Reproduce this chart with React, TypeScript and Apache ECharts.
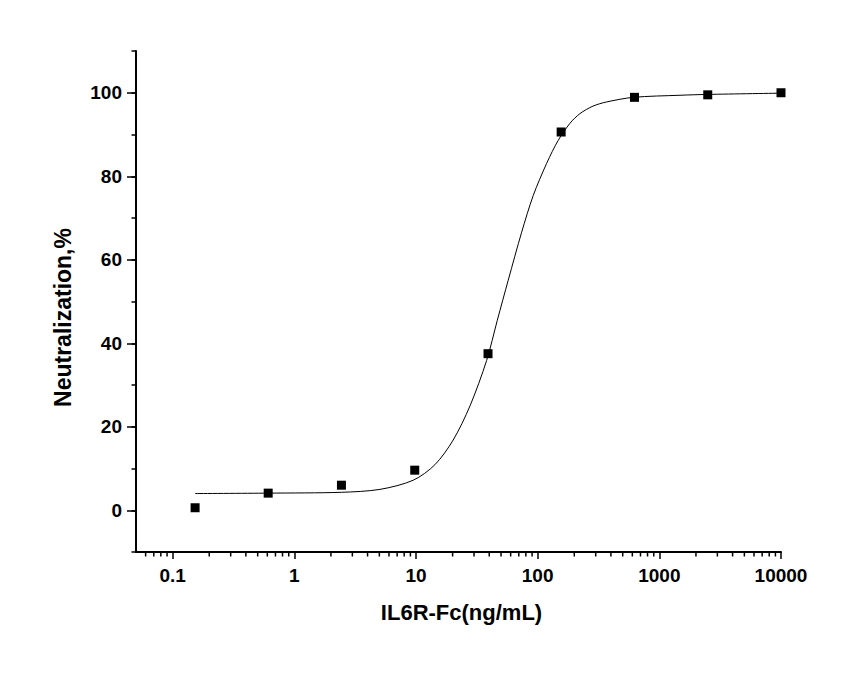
import React, { useEffect, useRef } from 'react';
import * as echarts from 'echarts';

// measured points (4-fold dilutions)
const doseValues = [0.153, 0.61, 2.44, 9.77, 39.1, 156, 625, 2500, 10000];
const neutValues = [0.6, 4.1, 6.0, 9.6, 37.5, 90.6, 98.9, 99.5, 100];

// fitted curve
const curveX = [0.153, 0.61, 2.44, 5.06, 9.5, 14.3, 20.2, 27.8, 38.1, 46.6, 57.3, 73.9, 92.0, 118.6, 147.6, 184.5, 222.6, 285, 369, 611, 1479, 2500, 10000];
const curveY = [4.0, 4.1, 4.3, 5.0, 7.2, 10.9, 16.8, 25.0, 35.9, 45.5, 55.1, 66.6, 75.4, 83.1, 88.6, 92.7, 95.0, 96.8, 97.8, 98.9, 99.4, 99.6, 99.9];

// axis ticks
const yMajorTicks = [0, 20, 40, 60, 80, 100];
const xMinorTicks = [
  0.06, 0.07, 0.08, 0.09,
  0.2, 0.3, 0.4, 0.5, 0.6, 0.7, 0.8, 0.9,
  2, 3, 4, 5, 6, 7, 8, 9,
  20, 30, 40, 50, 60, 70, 80, 90,
  200, 300, 400, 500, 600, 700, 800, 900,
  2000, 3000, 4000, 5000, 6000, 7000, 8000, 9000,
];

const X_MIN = 0.05;
const X_MAX = 10000;
const Y_MIN = -10;
const Y_MAX = 110;

const FONT = 'Arial, "Liberation Sans", sans-serif';

const App: React.FC = () => {
  const chartRef = useRef<HTMLDivElement>(null);

  useEffect(() => {
    if (!chartRef.current) return;
    const chart = echarts.init(chartRef.current, undefined, { renderer: 'svg' });

    const option = {
      animation: false,
      backgroundColor: '#fff',
      grid: { left: 136, right: 76, top: 51, bottom: 129 },
      xAxis: {
        type: 'log',
        logBase: 10,
        min: X_MIN,
        max: X_MAX,
        name: 'IL6R-Fc(ng/mL)',
        nameLocation: 'middle',
        nameGap: 49,
        nameTextStyle: {
          fontFamily: FONT,
          fontSize: 22,
          fontWeight: 'bold',
          color: '#000',
          padding: [0, 0, 0, 6],
        },
        axisLine: { show: true, onZero: false, lineStyle: { color: '#000', width: 2 } },
        axisTick: { show: true, length: 7, lineStyle: { color: '#000', width: 1.5 } },
        axisLabel: {
          showMinLabel: false,
          margin: 14,
          fontFamily: FONT,
          fontSize: 19,
          fontWeight: 'bold',
          color: '#000',
          formatter: (v: number) => String(+v.toPrecision(6)),
        },
        splitLine: { show: false },
      },
      yAxis: [
        {
          type: 'value',
          min: Y_MIN,
          max: Y_MAX,
          name: 'Neutralization,%',
          nameLocation: 'middle',
          nameGap: 62,
          nameTextStyle: {
            fontFamily: FONT,
            fontSize: 23,
            fontWeight: 'bold',
            color: '#000',
            padding: [0, 32, 0, 0],
          },
          axisLine: { show: true, onZero: false, lineStyle: { color: '#000', width: 2 } },
          axisTick: {
            show: true,
            length: 9,
            customValues: yMajorTicks,
            lineStyle: { color: '#000', width: 1.5 },
          },
          axisLabel: {
            customValues: yMajorTicks,
            margin: 14,
            fontFamily: FONT,
            fontSize: 19,
            fontWeight: 'bold',
            color: '#000',
          },
          splitLine: { show: false },
        },
        {
          type: 'value',
          position: 'left',
          offset: 0,
          min: Y_MIN,
          max: Y_MAX,
          interval: 10,
          axisLine: { show: false, onZero: false },
          axisTick: { show: true, length: 4.5, lineStyle: { color: '#000', width: 1.5 } },
          axisLabel: { show: false },
          splitLine: { show: false },
        },
      ],
      series: [
        {
          // minor ticks of the log axis
          type: 'custom',
          silent: true,
          clip: false,
          data: xMinorTicks.map((v) => [v, Y_MIN]),
          renderItem: (_params: any, api: any) => {
            const p = api.coord([api.value(0), api.value(1)]);
            return {
              type: 'line',
              shape: { x1: p[0], y1: p[1], x2: p[0], y2: p[1] + 4.5 },
              style: { stroke: '#000', lineWidth: 1.5 },
            };
          },
          z: 1,
        },
        {
          name: 'fit',
          type: 'line',
          data: curveX.map((x, i) => [x, curveY[i]]),
          showSymbol: false,
          smooth: 0.3,
          lineStyle: { color: '#000', width: 1 },
          z: 2,
        },
        {
          name: 'data',
          type: 'scatter',
          symbol: 'rect',
          symbolSize: 9,
          data: doseValues.map((x, i) => [x, neutValues[i]]),
          itemStyle: { color: '#000', opacity: 1 },
          z: 3,
        },
      ],
    };

    chart.setOption(option);

    return () => {
      chart.dispose();
    };
  }, []);

  return (
    <div
      ref={chartRef}
      style={{ position: 'fixed', left: 0, top: 0, width: '857px', height: '681px' }}
    ></div>
  );
};

export default App;
